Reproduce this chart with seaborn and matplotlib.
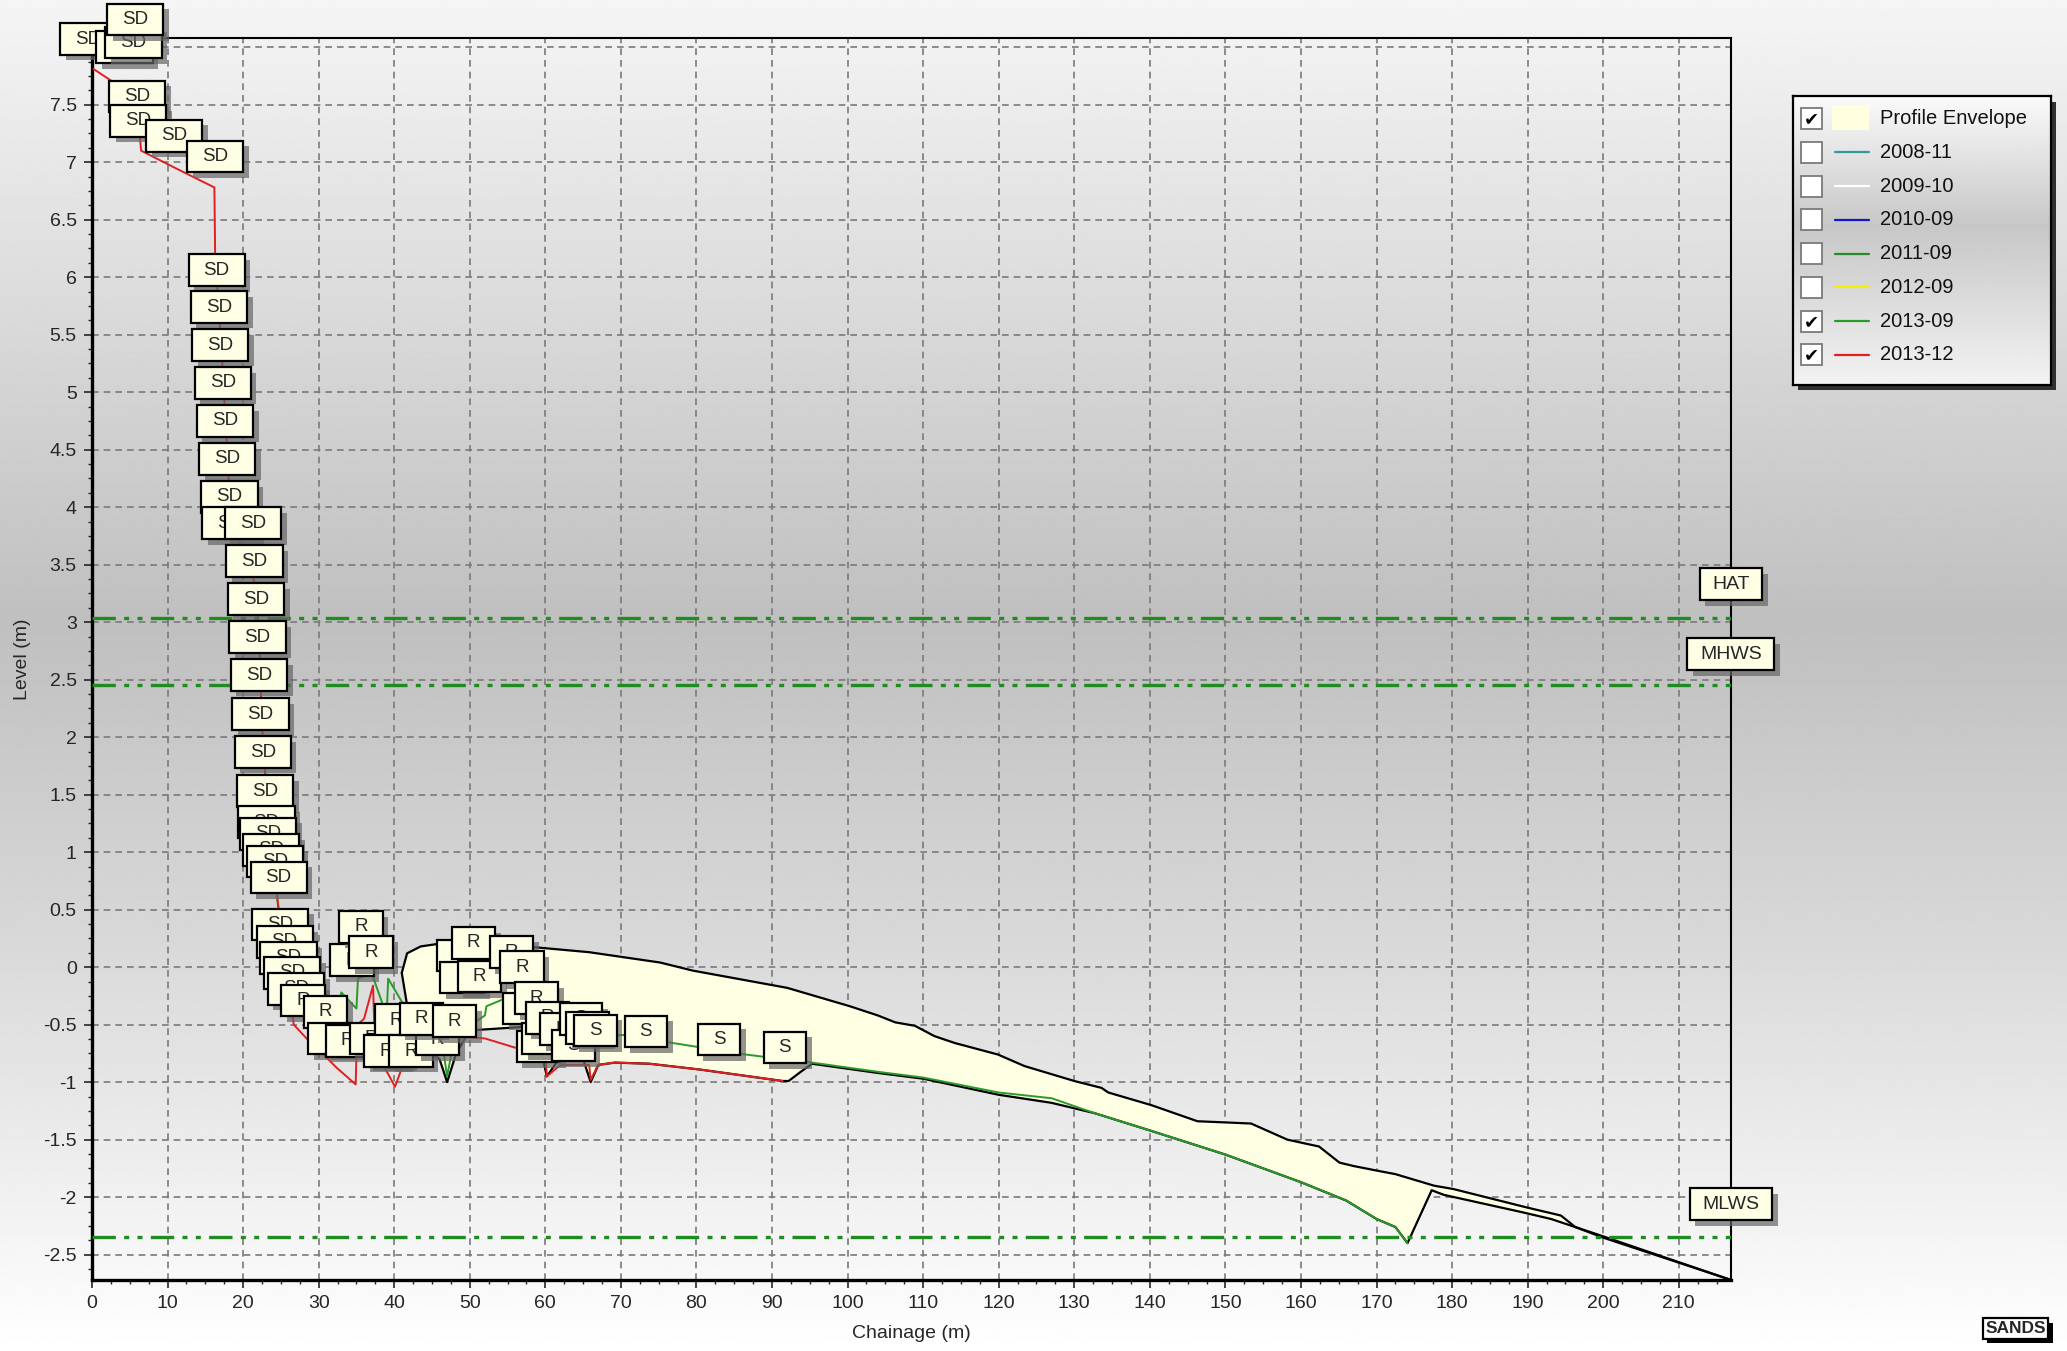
import numpy as np
import pandas as pd
import matplotlib
matplotlib.use("Agg")
import matplotlib.pyplot as plt
import matplotlib.patheffects as pe
from matplotlib.path import Path
from matplotlib.patches import Rectangle
from matplotlib.ticker import MultipleLocator, FuncFormatter
import seaborn as sns

# profile envelope, upper and lower boundary (chainage m, level m)
envTopX = [41.0, 41.7, 43.5, 46.6, 52.0, 59.1, 65.8, 75.2, 79.5, 92.0, 100.3, 104.0, 106.3, 108.9,
           111.5, 114.2, 119.9, 123.4, 130.0, 133.6, 134.5, 140.2, 146.3, 149.9, 153.4, 158.2,
           162.4, 165.1, 167.0, 170.1, 172.5, 177.6, 180.2, 189.9, 194.4, 196.3, 199.9, 216.9]
envTopY = [-0.05, 0.12, 0.18, 0.21, 0.20, 0.17, 0.13, 0.04, -0.03, -0.18, -0.34, -0.42, -0.48, -0.51,
           -0.60, -0.66, -0.76, -0.86, -0.99, -1.05, -1.09, -1.20, -1.34, -1.35, -1.36, -1.50,
           -1.56, -1.70, -1.73, -1.77, -1.80, -1.90, -1.93, -2.09, -2.16, -2.26, -2.35, -2.72]
envLowX = [41.0, 42.0, 44.0, 46.0, 47.0, 48.2, 50.0, 57.0, 59.0, 60.2, 62.0, 65.0, 66.0, 67.0, 69.2,
           73.8, 80.4, 91.4, 92.2, 93.8, 95.3, 104.0, 110.0, 120.0, 127.0, 132.7, 140.0, 150.0,
           160.0, 166.0, 170.0, 172.5, 174.1, 177.3, 178.9, 189.2, 193.1, 199.5, 216.9]
envLowY = [-0.05, -0.45, -0.70, -0.80, -1.00, -0.75, -0.55, -0.52, -0.60, -0.95, -0.78, -0.80, -1.00,
           -0.85, -0.83, -0.84, -0.89, -0.99, -0.99, -0.91, -0.84, -0.92, -0.97, -1.11, -1.18, -1.27,
           -1.42, -1.63, -1.87, -2.03, -2.19, -2.26, -2.40, -1.94, -1.98, -2.13, -2.19, -2.33, -2.72]

# survey 2013-09 (green)
sep13X = [24.5, 25.5, 27.0, 29.0, 31.0, 32.7, 33.0, 35.0, 35.2, 37.0, 39.0, 39.2, 41.0, 44.0, 46.6,
          47.0, 48.0, 52.0, 52.2, 55.5, 58.0, 60.0, 63.0, 66.7, 70.3, 76.9, 86.5, 95.3, 104.0, 110.0,
          120.0, 127.0, 132.7, 140.0, 150.0, 160.0, 166.0, 170.0, 172.5, 174.1]
sep13Y = [0.60, 0.20, -0.10, -0.20, -0.25, -0.33, -0.22, -0.36, -0.10, -0.05, -0.42, -0.10, -0.30,
          -0.50, -0.77, -0.95, -0.60, -0.42, -0.34, -0.25, -0.40, -0.55, -0.58, -0.60, -0.59, -0.66,
          -0.76, -0.83, -0.91, -0.96, -1.09, -1.14, -1.27, -1.42, -1.63, -1.87, -2.03, -2.19, -2.26, -2.40]

# survey 2013-12 (red)
dec13X = [0.2, 3.2, 5.8, 5.9, 6.5, 11.0, 16.2, 16.3, 16.8, 17.3, 17.8, 18.3, 19.5, 21.8, 22.2, 22.5,
          23.0, 23.4, 24.3, 24.6, 25.0, 25.8, 26.3, 26.7, 28.4, 30.5, 32.3, 34.9, 35.1, 36.0, 37.2,
          37.4, 38.0, 39.2, 40.1, 42.0, 45.0, 48.0, 52.0, 56.0, 60.0, 60.2, 62.0, 65.8, 66.0, 67.0,
          69.2, 73.8, 80.4, 91.4]
dec13Y = [7.81, 7.68, 7.68, 7.55, 7.10, 6.95, 6.78, 6.20, 5.70, 5.20, 4.60, 4.00, 3.70, 3.30, 2.70,
          2.10, 1.60, 1.10, 0.80, 0.55, 0.30, 0.00, -0.30, -0.50, -0.62, -0.75, -0.87, -1.02, -0.50,
          -0.45, -0.16, -0.60, -0.80, -0.93, -1.04, -0.70, -0.65, -0.60, -0.62, -0.70, -0.75, -0.95,
          -0.85, -0.85, -0.98, -0.85, -0.83, -0.84, -0.89, -0.99]

# point code labels (text, chainage, level)
codeText = ["SD"] * 8 + ["SD"] * 8 + ["SD"] * 13 + ["SD"] * 5 + ["R"] * 6 + ["R"] * 3 + ["R"] * 6 \
           + ["R"] * 12 + ["S"] * 7
codeX = [-0.5, 4.3, 5.5, 5.7, 6.0, 6.1, 10.9, 16.3,
         16.5, 16.8, 17.0, 17.3, 17.6, 17.9, 18.2, 18.3,
         21.3, 21.5, 21.7, 21.9, 22.1, 22.3, 22.6, 22.9, 23.1, 23.3, 23.7, 24.2, 24.7,
         24.9, 25.5, 26.0, 26.5, 27.0,
         27.9, 30.9, 31.5, 33.8, 37.0, 39.4,
         34.4, 35.6, 36.9,
         40.3, 38.9, 42.2, 45.7, 43.6, 48.0,
         48.6, 49.0, 50.5, 51.3, 55.5, 56.9, 57.3, 58.8, 59.1, 59.8, 60.3, 62.2,
         63.7, 64.7, 65.6, 66.6, 73.3, 83.0, 91.7]
codeY = [8.07, 8.00, 8.04, 8.24, 7.57, 7.36, 7.23, 7.05,
         6.06, 5.74, 5.41, 5.08, 4.75, 4.42, 4.09, 3.86,
         3.86, 3.53, 3.20, 2.87, 2.54, 2.20, 1.87, 1.53, 1.26, 1.16, 1.02, 0.92, 0.78,
         0.37, 0.22, 0.08, -0.05, -0.19,
         -0.29, -0.39, -0.62, -0.64, -0.62, -0.72,
         0.06, 0.35, 0.13,
         -0.46, -0.73, -0.73, -0.63, -0.45, -0.47,
         0.10, -0.09, 0.21, -0.08, 0.13, 0.00, -0.36, -0.27, -0.69, -0.62, -0.44, -0.54,
         -0.68, -0.45, -0.53, -0.55, -0.56, -0.63, -0.70]

# tidal levels
tideNames = ["HAT", "MHWS", "MLWS"]
tideLevels = [3.04, 2.45, -2.35]
tideLabelY = [3.33, 2.72, -2.06]

# legend
legNames = ["Profile Envelope", "2008-11", "2009-10", "2010-09", "2011-09", "2012-09", "2013-09", "2013-12"]
legColors = ["#FFFFE0", "#2E9A9A", "#FFFFFF", "#1414C8", "#2A8A2A", "#F2F200", "#2A9A2A", "#E02020"]
legChecked = [True, False, False, False, False, False, True, True]

sns.set_style("ticks")
plt.rcParams['font.family'] = ['Liberation Sans', 'DejaVu Sans']

fig = plt.figure(figsize=(20.67, 13.51), dpi=100)

# grey gradient background
bg = fig.add_axes([0, 0, 1, 1], zorder=-10)
t = np.linspace(0, 1, 600)
shade = np.interp(t, [0, 0.2, 0.46, 0.7, 0.88, 1.0], [0.96, 0.87, 0.75, 0.85, 0.94, 1.0])
bg.imshow(shade[:, None], aspect='auto', cmap='gray', vmin=0, vmax=1, extent=[0, 1, 0, 1])
bg.axis('off')


def make_box(padx, pady):
    def box(x0, y0, width, height, mutation_size):
        px, py = padx * mutation_size, pady * mutation_size
        x0, y0 = x0 - px, y0 - py
        x1, y1 = x0 + width + 2 * px, y0 + height + 2 * py
        return Path([(x0, y0), (x1, y0), (x1, y1), (x0, y1), (x0, y0)], closed=True)
    return box


shadow = [pe.SimplePatchShadow(offset=(4, -4), shadow_rgbFace='0.4', alpha=0.7), pe.Normal()]

ax = fig.add_axes([0.0445, 0.0526, 0.7929, 0.9193])
ax.set_facecolor('none')
ax.set_axisbelow(True)

# envelope
polyX = envTopX + envLowX[::-1]
polyY = envTopY + envLowY[::-1]
ax.fill(polyX, polyY, color='#FFFFE3', zorder=2, lw=0)
sns.lineplot(x=envTopX, y=envTopY, sort=False, estimator=None, color='black', lw=1.6, ax=ax, zorder=3)
sns.lineplot(x=envLowX, y=envLowY, sort=False, estimator=None, color='black', lw=1.6, ax=ax, zorder=3)

# surveys
sns.lineplot(x=sep13X, y=sep13Y, sort=False, estimator=None, color='#2A9A2A', lw=1.4, ax=ax, zorder=4)
sns.lineplot(x=dec13X, y=dec13Y, sort=False, estimator=None, color='#E02020', lw=1.4, ax=ax, zorder=4)

# tidal lines
for lvl in tideLevels:
    ax.axhline(lvl, color='#1E8C1E', lw=2.4, linestyle=(0, (7, 2.5, 1.5, 2.5, 1.5, 2.5)), zorder=5)

codeBox = make_box(0.8, 0.39)
for txt, xx, yy in zip(codeText, codeX, codeY):
    lab = ax.text(xx, yy, txt, ha='center', va='center', fontsize=13.5, zorder=6, clip_on=False,
                  bbox=dict(boxstyle=codeBox, fc='#FFFFE6', ec='black', lw=1.6))
    lab.get_bbox_patch().set_path_effects(shadow)

tideBox = make_box(0.65, 0.39)
for name, yy in zip(tideNames, tideLabelY):
    lab = ax.text(216.9, yy, name, ha='center', va='center', fontsize=14, zorder=7, clip_on=False,
                  bbox=dict(boxstyle=tideBox, fc='#FFFFE6', ec='black', lw=1.6))
    lab.get_bbox_patch().set_path_effects(shadow)

ax.set_xlim(0, 216.9)
ax.set_ylim(-2.72, 8.08)
ax.xaxis.set_major_locator(MultipleLocator(10))
ax.xaxis.set_minor_locator(MultipleLocator(2.5))
ax.yaxis.set_major_locator(MultipleLocator(0.5))
ax.yaxis.set_minor_locator(MultipleLocator(0.125))
ax.yaxis.set_major_formatter(FuncFormatter(lambda v, p: f"{v:g}"))
ax.grid(True, which='major', color='#7A7A7A', linestyle=(0, (4, 3)), lw=1.2)
ax.tick_params(which='major', direction='out', length=6, width=1.2, labelsize=14, pad=5)
ax.tick_params(which='minor', direction='out', length=3, width=1)
for side in ['left', 'bottom']:
    ax.spines[side].set_linewidth(2.4)
for side in ['top', 'right']:
    ax.spines[side].set_linewidth(1.5)
    ax.spines[side].set_visible(True)
for sp in ax.spines.values():
    sp.set_color('black')
ax.set_xlabel("Chainage (m)", fontsize=14)
ax.set_ylabel("Level (m)", fontsize=14)
ax.xaxis.set_label_coords(0.5, -0.036)
ax.yaxis.set_label_coords(-0.037, 0.5)

# legend box drawn by hand
lx0, ly0, lw_, lh_ = 0.8673, 0.7151, 0.1250, 0.2137
fig.add_artist(Rectangle((lx0 + 0.0025, ly0 - 0.004), lw_, lh_, transform=fig.transFigure,
                         fc='#303030', ec='none', zorder=4))
lax = fig.add_axes([lx0, ly0, lw_, lh_], zorder=5)
lax.set_xlim(0, 196)
lax.set_ylim(219, 0)
lshade = np.interp(np.linspace(0, 1, 200), [0, 0.45, 1], [0.98, 0.78, 0.95])
lax.imshow(lshade[:, None], aspect='auto', cmap='gray', vmin=0, vmax=1, extent=[0, 196, 219, 0])
lax.set_xticks([])
lax.set_yticks([])
for sp in lax.spines.values():
    sp.set_linewidth(1.6)
    sp.set_color('black')
for i, (name, col, chk) in enumerate(zip(legNames, legColors, legChecked)):
    yc = 17 + i * 25.6
    lax.add_patch(Rectangle((6, yc - 8), 16, 16, fc='white', ec='#7A7A7A', lw=1.3))
    if chk:
        lax.text(14, yc + 0.5, "\u2714", ha='center', va='center', fontsize=13,
                 family='DejaVu Sans', color='black')
    if i == 0:
        lax.add_patch(Rectangle((30, yc - 10), 28, 19, fc=col, ec='none'))
    else:
        lax.plot([32, 58], [yc, yc], color=col, lw=1.6)
    lax.text(66, yc, name, va='center', ha='left', fontsize=14.5, color='#111111')

# logo
logo = fig.text(0.9751, 0.0166, "SANDS", ha='center', va='center', fontsize=12.5, fontweight='bold',
                family=['Liberation Sans Narrow', 'Liberation Sans'],
                bbox=dict(boxstyle='square,pad=0.15', fc='white', ec='black', lw=1.6))
logo.get_bbox_patch().set_path_effects([pe.SimplePatchShadow(offset=(3, -3), shadow_rgbFace='black', alpha=1),
                                        pe.Normal()])

fig.savefig("out.png", dpi=100)
